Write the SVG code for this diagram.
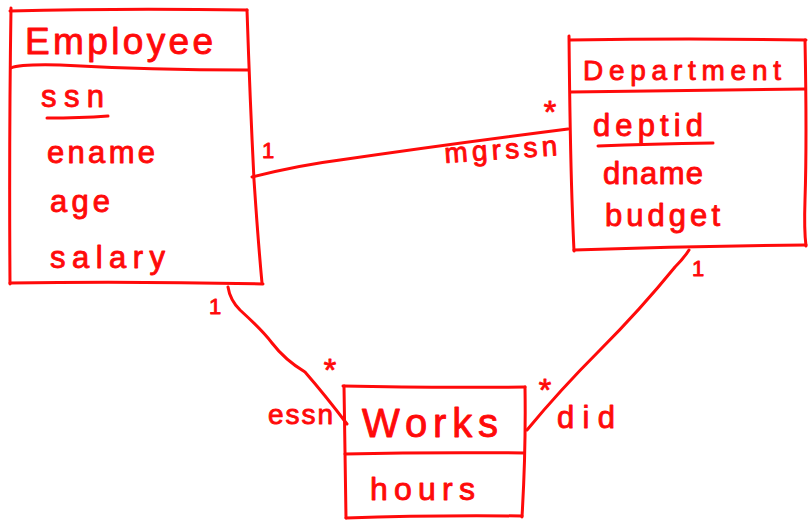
<svg xmlns="http://www.w3.org/2000/svg" width="809" height="521" viewBox="0 0 809 521">
  <style>
    .pen { fill: none; stroke: #ff0a0a; stroke-width: 3; stroke-linecap: round; stroke-linejoin: round; }
    .hand { fill: #ff0a0a; stroke: #ff0a0a; stroke-width: 0.9; stroke-linejoin: round; font-family: "Liberation Sans", "DejaVu Sans", sans-serif; }
    .title { font-size: 37px; }
    .attr { font-size: 31px; }
    .role { font-size: 28px; }
    .mult { font-size: 22px; }
    .star { font-size: 32px; text-anchor: middle; }
  </style>
  <rect width="809" height="521" fill="#ffffff"/>

  <!-- Employee class -->
  <g id="employee">
    <path class="pen" d="M10 11 Q120 8 247 10"/>
    <path class="pen" d="M247 10 Q250 100 254 180 Q258 240 262 283"/>
    <path class="pen" d="M10 283 Q130 281 263 284"/>
    <path class="pen" d="M11 8 Q9 140 10 284"/>
    <path class="pen" d="M11 68 Q20 64 60 65 Q150 70 248 70"/>
    <text class="hand title" x="25" y="54" textLength="188" lengthAdjust="spacing">Employee</text>
    <text class="hand attr" x="41" y="107" textLength="63" lengthAdjust="spacing">ssn</text>
    <path class="pen" d="M47 118 Q80 118 108 116"/>
    <text class="hand attr" x="47" y="163" textLength="108" lengthAdjust="spacing">ename</text>
    <text class="hand attr" x="50" y="212" textLength="60" lengthAdjust="spacing">age</text>
    <text class="hand attr" x="50" y="268" textLength="115" lengthAdjust="spacing">salary</text>
  </g>

  <!-- Department class -->
  <g id="department">
    <path class="pen" d="M570 40 Q690 38 806 40"/>
    <path class="pen" d="M805 40 Q807 140 805 200 Q804 230 806 246"/>
    <path class="pen" d="M574 250 Q690 246 806 245"/>
    <path class="pen" d="M569 36 Q570 140 572 200 Q573 230 574 251"/>
    <path class="pen" d="M571 92 Q690 90 805 89"/>
    <text class="hand" style="font-size:28px" x="583" y="80" textLength="198" lengthAdjust="spacing">Department</text>
    <text class="hand attr" x="593" y="136" textLength="110" lengthAdjust="spacing">deptid</text>
    <path class="pen" d="M598 146 Q650 144 713 143"/>
    <text class="hand attr" x="603" y="184" textLength="100" lengthAdjust="spacing">dname</text>
    <text class="hand attr" x="605" y="226" textLength="115" lengthAdjust="spacing">budget</text>
  </g>

  <!-- Works association class -->
  <g id="works">
    <path class="pen" d="M343 386 Q430 388 525 387"/>
    <path class="pen" d="M525 387 Q526 450 522 517"/>
    <path class="pen" d="M346 518 Q430 515 522 516"/>
    <path class="pen" d="M344 386 Q345 450 346 518"/>
    <path class="pen" d="M345 454 Q430 452 524 453"/>
    <text class="hand" style="font-size:40px" x="362" y="437" textLength="136" lengthAdjust="spacing">Works</text>
    <text class="hand" style="font-size:32px" x="370" y="500" textLength="105" lengthAdjust="spacing">hours</text>
  </g>

  <!-- Associations -->
  <g id="connectors">
    <path class="pen" d="M252 177 Q300 165 340 160 Q450 144 568 129"/>
    <path class="pen" d="M228 287 Q230 300 240 310 Q262 330 272 343 Q285 360 305 372 Q325 395 347 424"/>
    <path class="pen" d="M689 250 Q684 258 675 267 Q640 310 600 350 Q560 390 527 430"/>
  </g>

  <!-- Multiplicities and role names -->
  <g id="labels">
    <text class="hand mult" x="262" y="158">1</text>
    <text class="hand star" x="550" y="123">*</text>
    <text class="hand role" transform="rotate(-4 445 163)" x="445" y="163" textLength="113" lengthAdjust="spacing">mgrssn</text>

    <text class="hand mult" x="209" y="314">1</text>
    <text class="hand star" x="330" y="381">*</text>
    <text class="hand role" x="268" y="424" textLength="65" lengthAdjust="spacing">essn</text>

    <text class="hand mult" x="692" y="276">1</text>
    <text class="hand star" x="545" y="401">*</text>
    <text class="hand" style="font-size:31px" x="557" y="428" textLength="58" lengthAdjust="spacing">did</text>
  </g>
</svg>
